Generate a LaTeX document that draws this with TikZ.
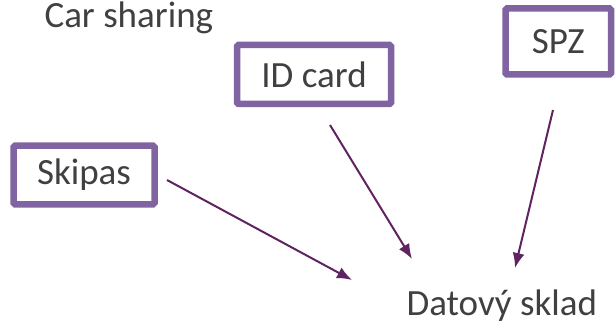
\documentclass[tikz,border=0pt]{standalone}
\usepackage{fontspec}
\setmainfont{Carlito}
\usepackage{tikz}
\usetikzlibrary{arrows.meta}
\definecolor{boxline}{HTML}{8064A2}
\definecolor{arrowline}{HTML}{5E2360}
\definecolor{txt}{HTML}{404040}
\tikzset{>={Latex[length=15pt, width=12pt]}}
\tikzset{idbox/.style={draw=boxline, line width=6.5pt, rounded corners=1.5pt, fill=white, text=txt, inner sep=0pt}}

\begin{document}
\begin{tikzpicture}[x=1pt, y=-1pt, font=\fontsize{37pt}{44pt}\selectfont]
    \useasboundingbox(0, 0)rectangle(615, 323);
    \node[text=txt, anchor=base west](carsharing)at(41, 28){Car sharing};
    \node[idbox, minimum width=154, minimum height=59](idcard)at(314, 74.5){ID card};
    \node[idbox, minimum width=105.5, minimum height=66](spz)at(558.25, 41.5){SPZ};
    \node[idbox, minimum width=141, minimum height=58.5](skipas)at(84, 175){Skipas};
    \node[text=txt, anchor=base west](sklad)at(403, 315.5){Datový sklad};
    \coordinate(skipasout)at(167, 180);
    \coordinate(skipasin)at(352, 280);
    \coordinate(idout)at(330, 125);
    \coordinate(idin)at(412, 259);
    \coordinate(spzout)at(553, 110);
    \coordinate(spzin)at(515, 268);
    \draw[arrowline, line width=2pt, ->](skipasout)--(skipasin);
    \draw[arrowline, line width=2pt, ->](idout)--(idin);
    \draw[arrowline, line width=2pt, ->](spzout)--(spzin);
\end{tikzpicture}
\end{document}
